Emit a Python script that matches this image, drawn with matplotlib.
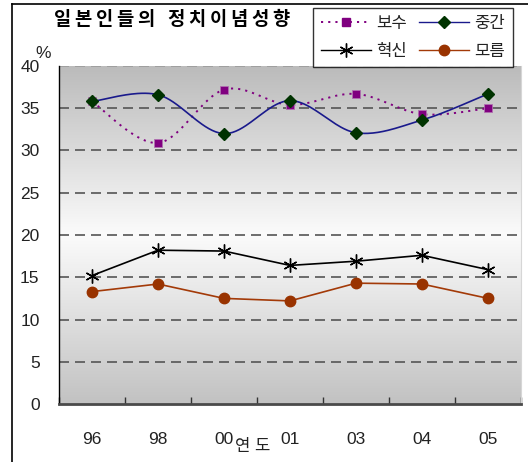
import numpy as np
import matplotlib
matplotlib.use("Agg")
import matplotlib.pyplot as plt
from matplotlib.colors import LinearSegmentedColormap
from matplotlib.lines import Line2D

plt.rcParams['font.family'] = ['Liberation Sans', 'Noto Sans CJK KR', 'DejaVu Sans']

# data
years = ["96", "98", "00", "01", "03", "04", "05"]
bosu = [35.8, 30.9, 37.2, 35.4, 36.7, 34.3, 35.0]      # 보수
junggan = [35.8, 36.6, 32.0, 35.9, 32.1, 33.6, 36.7]   # 중간
hyeoksin = [15.2, 18.2, 18.1, 16.4, 16.9, 17.6, 15.9]  # 혁신
moreum = [13.3, 14.2, 12.5, 12.2, 14.3, 14.2, 12.5]    # 모름
yticks = [0, 5, 10, 15, 20, 25, 30, 35, 40]
title = '일본인들의 정치이념성향'


def smooth(xs, ys, n=40):
    """Cubic Bezier smoothing through every point (Catmull-Rom style)."""
    p = np.column_stack([xs, ys]).astype(float)
    out = []
    for i in range(len(p) - 1):
        p0 = p[i - 1] if i > 0 else p[i]
        p1, p2 = p[i], p[i + 1]
        p3 = p[i + 2] if i + 2 < len(p) else p[i + 1]
        c1 = p1 + (p2 - p0) / 6.0
        c2 = p2 - (p3 - p1) / 6.0
        t = np.linspace(0, 1, n)[:, None]
        seg = ((1 - t) ** 3) * p1 + 3 * ((1 - t) ** 2) * t * c1 \
            + 3 * (1 - t) * t ** 2 * c2 + t ** 3 * p2
        out.append(seg if i == 0 else seg[1:])
    s = np.vstack(out)
    return s[:, 0], s[:, 1]


W, H = 528, 462
fig = plt.figure(figsize=(W / 100, H / 100), dpi=100)
fig.patch.set_facecolor('white')

ax = fig.add_axes([59 / W, 1 - 404 / H, (521 - 59) / W, (404 - 66) / H])
x = np.arange(len(years))
ax.set_xlim(-0.5, len(years) - 0.5)
ax.set_ylim(0, 40)

# vertical grey-white-grey background
cmap = LinearSegmentedColormap.from_list(
    'bg', [(0.0, '#c2c2c2'), (0.5, '#fbfbfb'), (1.0, '#bbbbbb')])
grad = np.linspace(0, 1, 256)[:, None]
ax.imshow(grad, aspect='auto', cmap=cmap, origin='lower',
          extent=(-0.5, len(years) - 0.5, 0, 40), zorder=0)

# dashed gridlines
for v in yticks[1:]:
    ax.axhline(v, color='#9a9a9a' if v == 40 else '#555555',
               lw=1.2, ls=(0, (6, 3.6)), zorder=1)

# series
sx, sy = smooth(x, bosu)
ax.plot(sx, sy, color='#800080', lw=1.4, ls=(0, (1.1, 2.6)), zorder=3)
ax.plot(x, bosu, ls='none', marker='s', ms=6, color='#800080',
        mec='#b070b0', mew=0.6, zorder=4)

sx, sy = smooth(x, junggan)
ax.plot(sx, sy, color='#1a1a8c', lw=1.2, zorder=3)
ax.plot(x, junggan, ls='none', marker='D', ms=6.5, color='#003300',
        mec='#003300', zorder=5)

ax.plot(x, hyeoksin, color='black', lw=1.2, marker=(6, 2, 0), ms=10,
        mew=1.0, zorder=4)
ax.plot(x, moreum, color='#a33a08', lw=1.2, marker='o', ms=7.5,
        mfc='#993300', mec='#993300', zorder=4)

# axes styling
ax.spines['top'].set_visible(False)
ax.spines['right'].set_color('#d6d6d6')
ax.spines['left'].set_color('black')
ax.spines['left'].set_linewidth(1.0)
ax.spines['bottom'].set_color('#4a4a4a')
ax.spines['bottom'].set_linewidth(2.0)

ax.set_yticks(yticks)
ax.set_yticklabels([str(v) for v in yticks], fontsize=12.5, color='#222222')
ax.tick_params(axis='y', length=0, pad=14)
ax.set_xticks(x)
ax.set_xticklabels(years, fontsize=12.5, color='#222222')
ax.tick_params(axis='x', which='major', length=0, pad=20)
ax.set_xticks(np.arange(-0.5, len(years) - 0.4, 1.0), minor=True)
ax.tick_params(axis='x', which='minor', direction='in', length=5,
               width=1.0, color='#333333')

# texts
fig.text(172 / W, 1 - 20 / H, '\u2009'.join(title), ha='center', va='center',
         fontsize=13.5, fontweight='bold', color='black')
fig.text(43 / W, 1 - 53 / H, '%', ha='center', va='center', fontsize=12.5,
         color='#222222')
fig.text(253 / W, 1 - 447 / H, '연 도', ha='center', va='center', fontsize=12,
         color='#222222')

# legend
handles = [
    Line2D([], [], color='#800080', lw=1.4, ls=(0, (1.1, 2.6)), marker='s',
           ms=6, mec='#800080'),
    Line2D([], [], color='black', lw=1.0, marker=(6, 2, 0), ms=10, mew=1.0),
    Line2D([], [], color='#1a1a8c', lw=1.0, marker='D', ms=6.5,
           mfc='#003300', mec='#003300'),
    Line2D([], [], color='#a33a08', lw=1.0, marker='o', ms=7.5,
           mfc='#993300', mec='#993300'),
]
labels = ['보수', '혁신', '중간', '모름']
leg = fig.legend(handles, labels, ncol=2, loc='upper right',
                 bbox_to_anchor=(513 / W, 1 - 8 / H), fontsize=12,
                 frameon=True, fancybox=False, edgecolor='black',
                 handlelength=3.0, handletextpad=0.3, columnspacing=0.7,
                 borderpad=0.5, labelspacing=0.75, borderaxespad=0)
leg.get_frame().set_linewidth(1.0)
for t in leg.get_texts():
    t.set_color('#222222')

# outer chart frame
fig.add_artist(Line2D([11.5 / W, 11.5 / W], [0, 1 - 3.5 / H],
                      transform=fig.transFigure, color='black', lw=1.2))
fig.add_artist(Line2D([11.5 / W, 1], [1 - 3.5 / H, 1 - 3.5 / H],
                      transform=fig.transFigure, color='black', lw=1.2))

fig.savefig('out.png', dpi=100)
